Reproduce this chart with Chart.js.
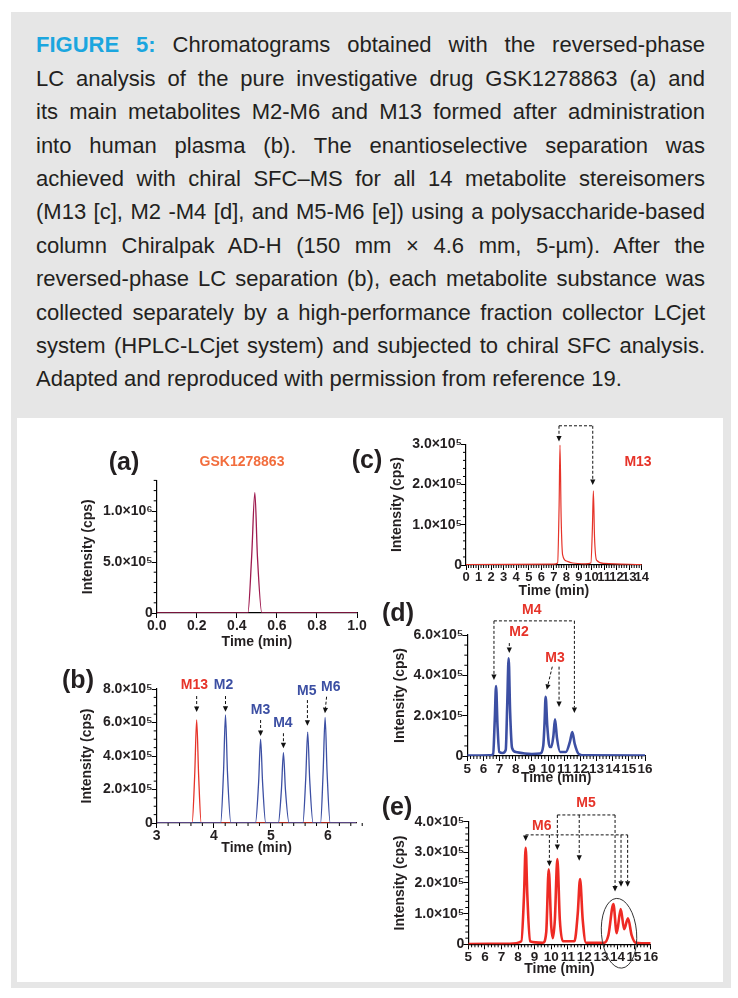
<!DOCTYPE html>
<html>
<head>
<meta charset="utf-8">
<script src="https://cdn.jsdelivr.net/npm/chart.js@4.4.1/dist/chart.umd.min.js"></script>
<style>
  body { margin: 0; width: 738px; height: 998px; background: #fff; position: relative; overflow: hidden;
         font-family: "Liberation Sans", Arial, Helvetica, sans-serif; }
  #box { position: absolute; left: 11px; top: 12px; width: 720px; height: 976px; background: #e6e6e6; }
  #panel { position: absolute; left: 17px; top: 418px; width: 706px; height: 564px; background: #fff; }
  #caption { position: absolute; left: 36px; top: 28.4px; width: 669px; font-size: 22px; line-height: 33.4px; color: #231f20; }
  #caption div { white-space: nowrap; }
  #caption b { color: #1ba6df; }
  canvas { position: absolute; }
</style>
</head>
<body>
<div id="box"></div>
<div id="panel"></div>
<div id="caption">
  <div class="j"><b>FIGURE 5:</b> Chromatograms obtained with the reversed-phase</div>
  <div class="j">LC analysis of the pure investigative drug GSK1278863 (a) and</div>
  <div class="j">its main metabolites M2-M6 and M13 formed after administration</div>
  <div class="j">into human plasma (b). The enantioselective separation was</div>
  <div class="j">achieved with chiral SFC–MS for all 14 metabolite stereisomers</div>
  <div class="j">(M13 [c], M2 -M4 [d], and M5-M6 [e]) using a polysaccharide-based</div>
  <div class="j">column Chiralpak AD-H (150 mm × 4.6 mm, 5-µm). After the</div>
  <div class="j">reversed-phase LC separation (b), each metabolite substance was</div>
  <div class="j">collected separately by a high-performance fraction collector LCjet</div>
  <div class="j">system (HPLC-LCjet system) and subjected to chiral SFC analysis.</div>
  <div>Adapted and reproduced with permission from reference 19.</div>
</div>

<canvas id="ca" width="310" height="215" style="left:60px;top:440px"></canvas>
<canvas id="cb" width="310" height="202" style="left:60px;top:660px"></canvas>
<canvas id="cc" width="315" height="185" style="left:345px;top:420px"></canvas>
<canvas id="cd" width="280" height="192" style="left:380px;top:600px"></canvas>
<canvas id="ce" width="285" height="188" style="left:380px;top:795px"></canvas>

<script>
// (a) pure GSK1278863
const aTime = [0, 0.455, 0.474, 0.49, 0.503, 0.525, 1.0];
const aInt  = [0, 0, 5.5e5, 1.18e6, 5.5e5, 0, 0];
const aXTicks = [0, 0.2, 0.4, 0.6, 0.8, 1.0];
const aYTicks = [0, 5e5, 1e6];

// (b) reversed-phase LC of plasma: M13 (red) and M2..M6 (blue)
const bTimeM13 = [3, 3.62, 3.665, 3.70, 3.735, 3.78, 6.5];
const bIntM13  = [0, 0, 2.8e5, 6.15e5, 2.8e5, 0, 0];
const bTimeMet = [3, 4.12, 4.17, 4.205, 4.24, 4.30, 4.73, 4.785, 4.82, 4.855, 4.91,
                  5.13, 5.185, 5.22, 5.255, 5.32, 5.56, 5.61, 5.645, 5.68, 5.74,
                  5.87, 5.915, 5.95, 5.985, 6.04, 6.5];
const bIntMet  = [0, 0, 3.0e5, 6.45e5, 3.0e5, 0, 0, 2.4e5, 5.0e5, 2.4e5, 0,
                  0, 2.0e5, 4.2e5, 2.0e5, 0, 0, 2.6e5, 5.43e5, 2.6e5, 0,
                  0, 3.0e5, 6.3e5, 3.0e5, 0, 0];
const bXTicks = [3, 4, 5, 6];
const bYTicks = [0, 2e5, 4e5, 6e5, 8e5];

// (c) chiral SFC of M13
const cTime = [0, 7.0, 7.3, 7.42, 7.49, 7.58, 7.7, 8.0, 8.5, 9.5, 9.95, 10.07, 10.15, 10.24, 10.4, 11.0, 14];
const cInt  = [1e3, 2e3, 5e3, 1.5e5, 2.98e5, 1.2e5, 2.5e4, 1e4, 5e3, 3e3, 5e3, 9e4, 1.84e5, 7e4, 1.2e4, 4e3, 1e3];
const cXTicks = [0, 1, 2, 3, 4, 5, 6, 7, 8, 9, 10, 11, 12, 13, 14];
const cYTicks = [0, 1e5, 2e5, 3e5];

// (d) chiral SFC of M2-M4
const dTime = [5, 6.4, 6.6, 6.7, 6.78, 6.87, 6.98, 7.2, 7.38, 7.47, 7.56, 7.65, 7.77, 8.0, 9.0, 9.5,
               9.7, 9.78, 9.85, 9.95, 10.1, 10.2, 10.33, 10.43, 10.55, 10.75, 11.1, 11.35, 11.5, 11.65, 11.9, 12.3, 16];
const dInt  = [2e3, 3e3, 1e4, 1.8e5, 3.47e5, 1.5e5, 2e4, 1.5e4, 3e4, 2.5e5, 4.85e5, 2.2e5, 4e4, 2e4, 1e4, 1.2e4,
               5e4, 1.6e5, 2.94e5, 1.5e5, 4.5e4, 4.5e4, 1.0e5, 1.82e5, 9e4, 2e4, 2e4, 7e4, 1.19e5, 6e4, 1e4, 3e3, 2e3];
const dXTicks = [5, 6, 7, 8, 9, 10, 11, 12, 13, 14, 15, 16];
const dYTicks = [0, 2e5, 4e5, 6e5];

// (e) chiral SFC of M5-M6
const eTime = [5, 7.5, 8.2, 8.36, 8.46, 8.56, 8.72, 9.5, 9.7, 9.85, 10.0, 10.1, 10.22, 10.37, 10.52, 10.7,
               11.4, 11.6, 11.74, 11.9, 12.1, 13.2, 13.45, 13.75, 13.95, 14.19, 14.4, 14.63, 14.85, 15.1, 16];
const eInt  = [1e3, 2e3, 1e4, 1.6e5, 3.15e5, 1.6e5, 1e4, 5e3, 4e4, 2.45e5, 6e4, 2e4, 8e4, 2.78e5, 8e4, 1e4,
               1e4, 1.0e5, 2.13e5, 8e4, 5e3, 5e3, 3e4, 1.31e5, 3.6e4, 1.15e5, 4.9e4, 8.5e4, 3e4, 5e3, 3e3];
const eXTicks = [5, 6, 7, 8, 9, 10, 11, 12, 13, 14, 15, 16];
const eYTicks = [0, 1e5, 2e5, 3e5, 4e5];

const FONT = '"Liberation Sans", Arial, Helvetica, sans-serif';
const INK = '#231f20';
const RED = '#e63329';
const BLUE = '#3c4fa3';
const SUP = { 5: '⁵', 6: '⁶' };

function sci(v) {
  if (v === 0) return '0';
  const e = Math.floor(Math.log10(v) + 1e-9);
  return (v / Math.pow(10, e)).toFixed(1) + '×10' + SUP[e];
}

// justify caption lines
document.querySelectorAll('#caption div.j').forEach(d => {
  d.innerHTML = '<span>' + d.innerHTML + '</span>';
  const sp = d.firstChild;
  const w = sp.getBoundingClientRect().width;
  const gaps = (d.textContent.match(/ /g) || []).length;
  if (w > 669) sp.style.letterSpacing = ((669 - w) / d.textContent.length) + 'px';
  else sp.style.wordSpacing = ((669 - w) / gaps) + 'px';
});

function drawArrow(ctx, pts, head) {
  const n = pts.length;
  const [x1, y1] = pts[n - 2], [x2, y2] = pts[n - 1];
  const ang = Math.atan2(y2 - y1, x2 - x1);
  const hl = head ? 5.5 : 0;
  ctx.save();
  ctx.strokeStyle = '#111';
  ctx.fillStyle = '#111';
  ctx.lineWidth = 1;
  ctx.setLineDash([3, 2]);
  ctx.beginPath();
  ctx.moveTo(pts[0][0], pts[0][1]);
  for (let i = 1; i < n - 1; i++) ctx.lineTo(pts[i][0], pts[i][1]);
  ctx.lineTo(x2 - hl * Math.cos(ang), y2 - hl * Math.sin(ang));
  ctx.stroke();
  if (head) {
    ctx.setLineDash([]);
    ctx.beginPath();
    ctx.moveTo(x2, y2);
    ctx.lineTo(x2 - hl * Math.cos(ang) + 2.6 * Math.sin(ang), y2 - hl * Math.sin(ang) - 2.6 * Math.cos(ang));
    ctx.lineTo(x2 - hl * Math.cos(ang) - 2.6 * Math.sin(ang), y2 - hl * Math.sin(ang) + 2.6 * Math.cos(ang));
    ctx.closePath();
    ctx.fill();
  }
  ctx.restore();
}

function marksPlugin(o) {
  return {
    id: 'marks',
    afterDraw(chart) {
      const { ctx, chartArea } = chart;
      const xs = chart.scales.x, ys = chart.scales.y;
      const px = v => xs.getPixelForValue(v), py = v => ys.getPixelForValue(v);
      ctx.save();
      ctx.strokeStyle = '#000';
      ctx.lineWidth = 1;
      // minor ticks
      const minor = (scale, step, majors, horiz) => {
        const n = Math.round((scale.max - scale.min) / step);
        for (let i = 0; i <= n; i++) {
          const v = scale.min + i * step;
          if (majors.some(m => Math.abs(m - v) < step * 1e-3)) continue;
          const p = scale.getPixelForValue(v);
          ctx.beginPath();
          if (horiz) { ctx.moveTo(p, chartArea.bottom); ctx.lineTo(p, chartArea.bottom + 3); }
          else { ctx.moveTo(chartArea.left, p); ctx.lineTo(chartArea.left - 3, p); }
          ctx.stroke();
        }
      };
      if (o.xMinor) minor(xs, o.xMinor, o.xTicks, true);
      if (o.yMinor) minor(ys, o.yMinor, o.yTicks, false);
      // panel letter and free labels
      ctx.textAlign = 'center';
      ctx.textBaseline = 'middle';
      ctx.fillStyle = INK;
      ctx.font = 'bold 25px ' + FONT;
      ctx.fillText(o.letter[0], o.letter[1] - o.left, o.letter[2] - o.top);
      (o.labels || []).forEach(l => {
        ctx.fillStyle = l.color;
        ctx.font = 'bold 14px ' + FONT;
        ctx.fillText(l.text, px(l.x), py(l.y));
      });
      (o.pageLabels || []).forEach(l => {
        ctx.fillStyle = l.color;
        ctx.font = 'bold 14px ' + FONT;
        ctx.fillText(l.text, l.x - o.left, l.y - o.top);
      });
      (o.arrows || []).forEach(a => drawArrow(ctx, a.map(p => [px(p[0]), py(p[1])]), true));
      (o.lines || []).forEach(a => drawArrow(ctx, a.map(p => [px(p[0]), py(p[1])]), false));
      if (o.ellipse) {
        const e = o.ellipse;
        const cx = px(e.x), cy = py(e.y);
        ctx.strokeStyle = '#333';
        ctx.lineWidth = 1;
        ctx.beginPath();
        ctx.ellipse(cx, cy, px(e.x + e.rx) - cx, cy - py(e.y + e.ry), -0.08, 0, Math.PI * 2);
        ctx.stroke();
      }
      ctx.restore();
    }
  };
}

function panel(id, o) {
  const canvas = document.getElementById(id);
  o.left = parseFloat(canvas.style.left);
  o.top = parseFloat(canvas.style.top);
  const titleFont = { family: FONT, weight: 'bold', size: 14 };
  return new Chart(canvas, {
    type: 'line',
    data: {
      datasets: o.series.map(s => ({
        data: s.t.map((t, i) => ({ x: t, y: s.v[i] })),
        borderColor: s.color,
        borderWidth: s.width,
        pointRadius: 0,
        fill: false,
        cubicInterpolationMode: 'monotone'
      }))
    },
    options: {
      responsive: false,
      animation: false,
      events: [],
      layout: { padding: { left: 0, top: o.padTop, right: o.padRight, bottom: 0 } },
      plugins: { legend: { display: false }, tooltip: { enabled: false } },
      scales: {
        x: {
          type: 'linear', min: o.xRange[0], max: o.xRange[1],
          afterBuildTicks: s => { s.ticks = o.xTicks.map(v => ({ value: v })); },
          afterFit: s => { s.height = o.xH; },
          border: { display: true, color: '#000', width: 1.2 },
          grid: { display: true, drawOnChartArea: false, drawTicks: true, tickLength: 5, color: '#000' },
          ticks: {
            autoSkip: false, maxRotation: 0, minRotation: 0,
            padding: 0, color: INK, font: { family: FONT, weight: 'bold', size: o.xFont },
            callback: v => o.xDec ? v.toFixed(o.xDec) : String(v)
          },
          title: { display: true, text: 'Time (min)', color: INK, font: titleFont, padding: { top: 0, bottom: o.xTitlePad } }
        },
        y: {
          min: 0, max: o.yMax,
          afterBuildTicks: s => { s.ticks = o.yTicks.map(v => ({ value: v })); },
          afterFit: s => { s.width = o.yW; },
          border: { display: true, color: '#000', width: 1.2 },
          grid: { display: true, drawOnChartArea: false, drawTicks: true, tickLength: 5, color: '#000' },
          ticks: {
            autoSkip: false, padding: -1, color: INK,
            font: { family: FONT, weight: 'bold', size: 14 },
            callback: v => sci(v)
          },
          title: { display: true, text: 'Intensity (cps)', color: INK, font: titleFont, padding: { top: o.yTitlePad, bottom: 0 } }
        }
      }
    },
    plugins: [marksPlugin(o)]
  });
}

panel('ca', {
  series: [{ t: aTime, v: aInt, color: '#9e1a4f', width: 1.3 }],
  xRange: [0, 1], xTicks: aXTicks, xDec: 1, xFont: 14,
  yMax: 1.3e6, yTicks: aYTicks, yMinor: 1e5,
  padTop: 40.4, padRight: 13, yW: 96.7, xH: 42, yTitlePad: 19.6, xTitlePad: 4.6,
  letter: ['(a)', 124, 463],
  pageLabels: [{ text: 'GSK1278863', x: 242, y: 462, color: '#f26d3d' }]
});

panel('cb', {
  series: [
    { t: bTimeMet, v: bIntMet, color: BLUE, width: 1.3 },
    { t: bTimeM13, v: bIntM13, color: RED, width: 1.3 }
  ],
  xRange: [3, 6.5], xTicks: bXTicks, xMinor: 0.2, xFont: 14,
  yMax: 8e5, yTicks: bYTicks, yMinor: 5e4,
  padTop: 29, padRight: 13.5, yW: 96.7, xH: 39, yTitlePad: 19.1, xTitlePad: 5.6,
  letter: ['(b)', 78, 681],
  labels: [
    { text: 'M13', x: 3.66, y: 8.24e5, color: RED },
    { text: 'M2', x: 4.17, y: 8.24e5, color: BLUE },
    { text: 'M3', x: 4.82, y: 6.75e5, color: BLUE },
    { text: 'M4', x: 5.21, y: 5.97e5, color: BLUE },
    { text: 'M5', x: 5.63, y: 7.88e5, color: BLUE },
    { text: 'M6', x: 6.05, y: 8.12e5, color: BLUE }
  ],
  arrows: [
    [[3.70, 7.58e5], [3.70, 6.63e5]],
    [[4.205, 7.58e5], [4.205, 6.64e5]],
    [[4.82, 6.15e5], [4.82, 5.2e5]],
    [[5.22, 5.36e5], [5.22, 4.46e5]],
    [[5.64, 7.34e5], [5.64, 5.81e5]],
    [[5.976, 7.54e5], [5.947, 6.55e5]]
  ]
});

panel('cc', {
  series: [{ t: cTime, v: cInt, color: RED, width: 1.2 }],
  xRange: [0, 14], xTicks: cXTicks, xMinor: 0.2, xFont: 13,
  yMax: 3e5, yTicks: cYTicks, yMinor: 2e4,
  padTop: 24.3, padRight: 18.3, yW: 121, xH: 40, yTitlePad: 43.6, xTitlePad: 5.6,
  letter: ['(c)', 367, 461],
  pageLabels: [{ text: 'M13', x: 638, y: 462, color: RED }],
  lines: [[[7.41, 3.46e5], [10.1, 3.46e5]]],
  arrows: [
    [[7.41, 3.46e5], [7.41, 3.07e5]],
    [[10.1, 3.46e5], [10.1, 1.99e5]]
  ]
});

panel('cd', {
  series: [{ t: dTime, v: dInt, color: BLUE, width: 2.6 }],
  xRange: [5, 16], xTicks: dXTicks, xMinor: 0.2, xFont: 13.5,
  yMax: 6e5, yTicks: dYTicks, yMinor: 5e4,
  padTop: 35, padRight: 15, yW: 87.3, xH: 36, yTitlePad: 12.1, xTitlePad: 5.6,
  letter: ['(d)', 398, 614],
  labels: [
    { text: 'M4', x: 8.99, y: 7.25e5, color: RED },
    { text: 'M2', x: 8.2, y: 6.15e5, color: RED },
    { text: 'M3', x: 10.43, y: 4.86e5, color: RED }
  ],
  lines: [[[6.65, 6.7e5], [11.63, 6.7e5]]],
  arrows: [
    [[6.65, 6.7e5], [6.65, 3.77e5]],
    [[11.63, 6.7e5], [11.63, 2.13e5]],
    [[7.6, 5.6e5], [7.6, 5.11e5]],
    [[10.26, 4.43e5], [9.92, 3.28e5]],
    [[10.68, 4.43e5], [10.68, 2.43e5]]
  ]
});

panel('ce', {
  series: [{ t: eTime, v: eInt, color: '#ee2a24', width: 2.6 }],
  xRange: [5, 16], xTicks: eXTicks, xMinor: 0.2, xFont: 13.5,
  yMax: 4e5, yTicks: eYTicks, yMinor: 2e4,
  padTop: 26.7, padRight: 14.3, yW: 88.3, xH: 38.7, yTitlePad: 12.1, xTitlePad: 5.6,
  letter: ['(e)', 397, 808],
  labels: [
    { text: 'M5', x: 12.1, y: 4.61e5, color: RED },
    { text: 'M6', x: 9.43, y: 3.86e5, color: RED }
  ],
  lines: [
    [[10.37, 4.22e5], [13.85, 4.22e5]],
    [[8.46, 3.57e5], [14.61, 3.57e5]]
  ],
  arrows: [
    [[10.37, 4.22e5], [10.37, 3.08e5]],
    [[11.69, 4.22e5], [11.69, 2.73e5]],
    [[13.85, 4.22e5], [13.85, 1.72e5]],
    [[8.46, 3.57e5], [8.46, 3.37e5]],
    [[9.89, 3.57e5], [9.89, 2.55e5]],
    [[14.21, 3.57e5], [14.21, 1.88e5]],
    [[14.61, 3.57e5], [14.61, 1.88e5]]
  ],
  ellipse: { x: 14.09, y: 3.6e4, rx: 1.06, ry: 1.14e5 }
});
</script>
</body>
</html>
